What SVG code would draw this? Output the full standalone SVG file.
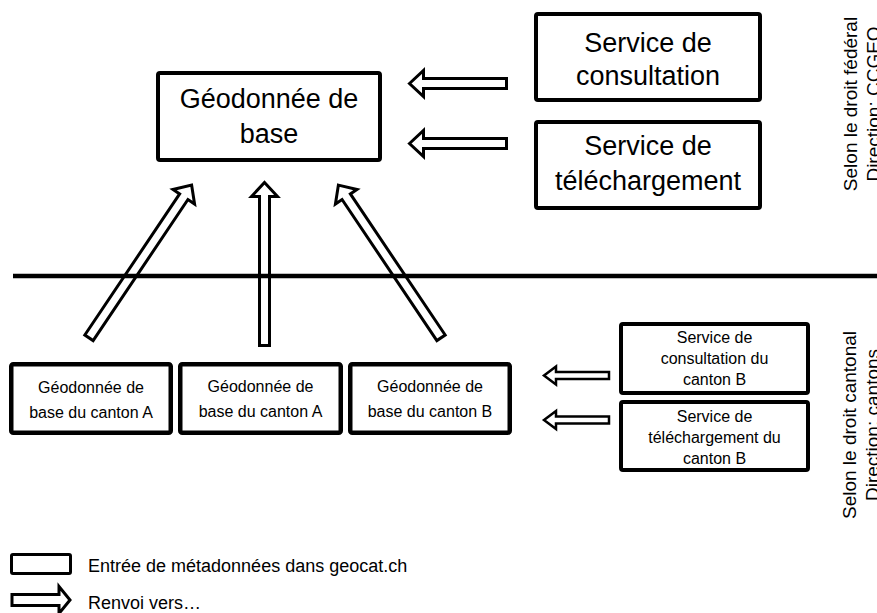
<svg xmlns="http://www.w3.org/2000/svg" width="877" height="613" viewBox="0 0 877 613">
<style>
  .box { fill: #fff; stroke: #000; stroke-width: 4; }
  .boxs { fill: #fff; stroke: #000; stroke-width: 4.5; }
  .arr { fill: #fff; stroke: #000; stroke-width: 3; stroke-linejoin: miter; stroke-miterlimit: 10; }
  .arrs { fill: #fff; stroke: #000; stroke-width: 2.5; stroke-linejoin: miter; stroke-miterlimit: 10; }
  text { font-family: "Liberation Sans", Arial, sans-serif; fill: #000; }
  .big { font-size: 27px; text-anchor: middle; }
  .mid { font-size: 16px; text-anchor: middle; }
  .side { font-size: 19px; text-anchor: middle; }
  .leg { font-size: 18px; }
</style>
<rect width="877" height="613" fill="#fff"/>

<g id="connectors">
  <!-- up arrows -->
  <path class="arr" transform="translate(191.6,185.1) rotate(33.9)" d="M0,0 L13,14 L5,14 L5,184 L-5,184 L-5,14 L-13,14 Z"/>
  <path class="arr" transform="translate(264.5,182.5)" d="M0,0 L13,14 L5,14 L5,163 L-5,163 L-5,14 L-13,14 Z"/>
  <path class="arr" transform="translate(338.4,185.1) rotate(-33.9)" d="M0,0 L13,14 L5,14 L5,184 L-5,184 L-5,14 L-13,14 Z"/>
  <!-- left arrows top -->
  <path class="arr" transform="translate(409.5,83.5) rotate(-90)" d="M0,0 L13,14 L5,14 L5,97 L-5,97 L-5,14 L-13,14 Z"/>
  <path class="arr" transform="translate(409.5,143.5) rotate(-90)" d="M0,0 L13,14 L5,14 L5,97 L-5,97 L-5,14 L-13,14 Z"/>
  <!-- left arrows bottom -->
  <path class="arrs" transform="translate(544,375.5) rotate(-90)" d="M0,0 L9,12 L3.5,12 L3.5,65 L-3.5,65 L-3.5,12 L-9,12 Z"/>
  <path class="arrs" transform="translate(544,420) rotate(-90)" d="M0,0 L9,12 L3.5,12 L3.5,65 L-3.5,65 L-3.5,12 L-9,12 Z"/>
</g>

<line x1="13" y1="276" x2="877" y2="276" stroke="#000" stroke-width="4.5"/>

<g id="geodonnee-base">
  <rect class="box" x="158" y="73" width="222" height="87" rx="2"/>
  <text class="big" x="269" y="108">Géodonnée de</text>
  <text class="big" x="269" y="143">base</text>
</g>
<g id="service-consultation">
  <rect class="box" x="536" y="14" width="224" height="86" rx="2"/>
  <text class="big" x="648" y="52">Service de</text>
  <text class="big" x="648" y="85">consultation</text>
</g>
<g id="service-telechargement">
  <rect class="box" x="536" y="122" width="224" height="86" rx="2"/>
  <text class="big" x="648" y="155">Service de</text>
  <text class="big" x="648" y="190">téléchargement</text>
</g>

<g id="canton-a-1">
  <rect class="boxs" x="11.25" y="364.25" width="159.5" height="68.5" rx="2"/>
  <text class="mid" x="91" y="393">Géodonnée de</text>
  <text class="mid" x="91" y="418">base du canton A</text>
</g>
<g id="canton-a-2">
  <rect class="boxs" x="180.25" y="364.25" width="160.5" height="68.5" rx="2"/>
  <text class="mid" x="260.5" y="392">Géodonnée de</text>
  <text class="mid" x="260.5" y="417">base du canton A</text>
</g>
<g id="canton-b">
  <rect class="boxs" x="350.25" y="364.25" width="159.5" height="68.5" rx="2"/>
  <text class="mid" x="430" y="392">Géodonnée de</text>
  <text class="mid" x="430" y="417">base du canton B</text>
</g>

<g id="consultation-b">
  <rect class="box" x="621" y="324" width="187" height="69" rx="2"/>
  <text class="mid" x="714.5" y="343">Service de</text>
  <text class="mid" x="714.5" y="364">consultation du</text>
  <text class="mid" x="714.5" y="385">canton B</text>
</g>
<g id="telechargement-b">
  <rect class="box" x="621" y="402" width="187" height="68" rx="2"/>
  <text class="mid" x="714.5" y="422">Service de</text>
  <text class="mid" x="714.5" y="443">téléchargement du</text>
  <text class="mid" x="714.5" y="464">canton B</text>
</g>

<g id="side-labels">
  <text class="side" transform="translate(857,104) rotate(-90)">Selon le droit fédéral</text>
  <text class="side" transform="translate(880,104) rotate(-90)">Direction: CCGEO</text>
  <text class="side" transform="translate(856,425) rotate(-90)">Selon le droit cantonal</text>
  <text class="side" transform="translate(879,425) rotate(-90)">Direction: cantons</text>
</g>

<g id="legend">
  <rect x="11.5" y="554.5" width="59" height="19" rx="1.5" fill="#fff" stroke="#000" stroke-width="3"/>
  <text class="leg" x="88" y="572">Entrée de métadonnées dans geocat.ch</text>
  <path class="arr" transform="translate(70,600) rotate(90)" d="M0,0 L13.5,11 L5.5,11 L5.5,58 L-5.5,58 L-5.5,11 L-13.5,11 Z"/>
  <text class="leg" x="88" y="609">Renvoi vers…</text>
</g>
</svg>
